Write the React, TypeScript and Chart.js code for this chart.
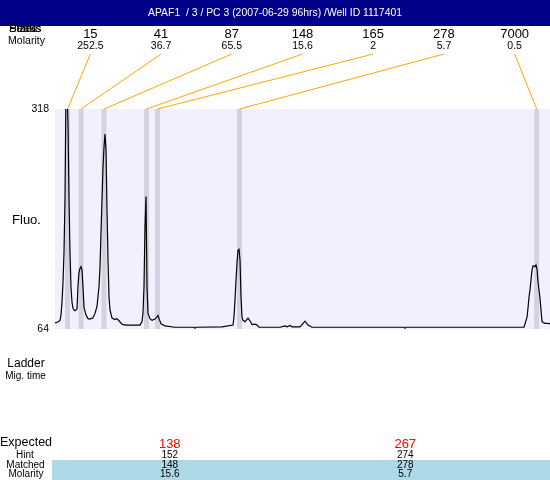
import React, { useEffect, useRef } from "react";
import { Chart, registerables } from "chart.js";

Chart.register(...registerables);

const titleText = "APAF1  / 3 / PC 3 (2007-06-29 96hrs) /Well ID 1117401";

// migration position (arbitrary time units) and fluorescence
const traceTime = [0, 3, 5, 6, 7, 8, 9, 10, 11, 12, 13, 14, 15, 16, 17, 18, 19, 20, 22, 23, 24, 25, 26, 27, 28, 29, 31, 33, 35, 38, 40, 42, 44, 45, 46, 47, 48, 49, 50, 51, 52, 53, 54, 55, 57, 60, 62, 64, 67, 70, 85, 87, 88, 89, 90, 91, 92, 93, 95, 97, 100, 102, 103, 104, 106, 110, 120, 139, 140, 141, 167, 178, 179, 180, 181, 182, 183, 184, 185, 186, 187, 188, 190, 193, 195, 197, 200, 202, 204, 225, 230, 232, 235, 237, 245, 250, 253, 257, 349, 350, 351, 469, 470, 472, 473, 474, 475, 476, 477, 478, 480, 481, 482, 483, 484, 485, 486, 487, 488, 490, 493, 495];
const traceFluo = [71, 72, 74, 80, 95, 118, 152, 215, 345, 340, 300, 215, 152, 112, 95, 88, 86, 85, 87, 114, 129, 134, 136, 132, 112, 89, 80, 76, 75.5, 77, 82, 90, 113, 136, 175, 213, 251, 274, 289, 271, 201, 144, 101, 86, 76.5, 75, 76, 73.5, 69.5, 68.5, 68.5, 72.5, 82, 113, 182, 217, 113, 82, 76, 74, 75.5, 78, 79.5, 76, 70, 67.5, 66, 66, 65, 66, 66.5, 68.5, 78, 97.5, 120, 140, 155, 156, 144, 101, 78, 74, 72.5, 76.5, 73.5, 69, 69.5, 68.5, 66, 66, 67.5, 66.5, 68, 66.5, 66.5, 73, 68.5, 66, 66, 65, 66, 66, 70, 77.5, 88, 101, 109, 120.5, 132, 137, 136, 138, 133, 118.5, 109, 99.5, 86, 72.5, 71.5, 70.5, 70.5, 70];

const timeMin = 0;
const timeMax = 495;
const fluoMin = 64;
const fluoMax = 318;

// ladder peaks
const ladderTime = [12.5, 26, 49, 91.5, 102.5, 184.5, 481.7];
const ladderSizes = ["15", "41", "87", "148", "165", "278", "7000"];
const ladderMolarity = ["252.5", "36.7", "65.5", "15.6", "2", "5.7", "0.5"];

// bottom table
const expectedSizes = ["138", "267"];
const hintSizes = ["152", "274"];
const matchedSizes = ["148", "278"];
const matchedMolarity = ["15.6", "5.7"];

const FONT = "'Liberation Sans', Arial, sans-serif";

export default function App() {
  const ref = useRef<HTMLCanvasElement | null>(null);

  useEffect(() => {
    document.body.style.margin = "0";
    const canvas = ref.current;
    if (!canvas) return;

    const decor = {
      id: "decor",
      beforeDatasetsDraw(chart: any) {
        const { ctx, chartArea, scales } = chart;
        const x = scales.x;
        ctx.save();
        ctx.fillStyle = "#F0F0FE";
        ctx.fillRect(chartArea.left, chartArea.top, chartArea.right - chartArea.left, chartArea.bottom - chartArea.top);
        ctx.fillStyle = "#D3D3DF";
        ladderTime.forEach((t) => {
          const x1 = x.getPixelForValue(t - 2.5);
          const x2 = x.getPixelForValue(t + 2.5);
          ctx.fillRect(x1, chartArea.top, x2 - x1, chartArea.bottom - chartArea.top);
        });
        ctx.restore();
      },
      afterDraw(chart: any) {
        const { ctx, chartArea, scales, width } = chart;
        const x = scales.x;
        ctx.save();
        // header
        ctx.fillStyle = "#000088";
        ctx.fillRect(0, 0, width, 26);
        ctx.fillStyle = "#FFF";
        ctx.textBaseline = "middle";
        ctx.textAlign = "center";
        ctx.font = `10.4px ${FONT}`;
        ctx.fillText(titleText, width / 2, 13.5);

        // left labels
        ctx.fillStyle = "#000";
        ctx.textAlign = "left";
        ctx.font = `11.5px ${FONT}`;
        ["Peaks", "Status", "Sizes"].forEach((s) => ctx.fillText(s, 9, 28.5));
        ctx.textAlign = "center";
        ctx.font = `10.5px ${FONT}`;
        ctx.fillText("Molarity", 26.5, 41);

        // ladder labels and connectors
        const w = (chartArea.right - chartArea.left) / ladderSizes.length;
        ladderSizes.forEach((s, i) => {
          const cx = chartArea.left + (i + 0.5) * w;
          ctx.fillStyle = "#000";
          ctx.font = `13px ${FONT}`;
          ctx.fillText(s, cx, 34);
          ctx.font = `10.5px ${FONT}`;
          ctx.fillText(ladderMolarity[i], cx, 46.5);
          ctx.strokeStyle = "#FFA500";
          ctx.lineWidth = 1;
          ctx.beginPath();
          ctx.moveTo(cx, 54);
          ctx.lineTo(x.getPixelForValue(ladderTime[i]), chartArea.top);
          ctx.stroke();
        });

        ctx.fillStyle = "#000";
        ctx.font = `13px ${FONT}`;
        ctx.fillText("Fluo.", 26.5, 220);
        ctx.font = `12px ${FONT}`;
        ctx.fillText("Ladder", 26, 364);
        ctx.font = `10px ${FONT}`;
        ctx.fillText("Mig. time", 25.5, 376);

        // bottom table
        ctx.fillStyle = "#ADD8E6";
        ctx.fillRect(52, 460, width - 52, 20);
        ctx.fillStyle = "#000";
        ctx.font = `12.5px ${FONT}`;
        ctx.fillText("Expected", 26, 443);
        ctx.font = `10px ${FONT}`;
        ctx.fillText("Hint", 25, 455);
        ctx.fillText("Matched", 25.5, 465);
        ctx.fillText("Molarity", 26, 474.5);
        const colW = 235.5;
        expectedSizes.forEach((s, i) => {
          const cx = 52 + colW * (i + 0.5);
          ctx.fillStyle = "#FF0000";
          ctx.font = `13px ${FONT}`;
          ctx.fillText(s, cx, 444);
          ctx.fillStyle = "#000";
          ctx.font = `10px ${FONT}`;
          ctx.fillText(hintSizes[i], cx, 455);
          ctx.fillText(matchedSizes[i], cx, 465);
          ctx.fillText(matchedMolarity[i], cx, 474.5);
        });
        ctx.restore();
      },
    };

    const chart = new Chart(canvas, {
      type: "line",
      data: {
        datasets: [
          {
            data: traceTime.map((t, i) => ({ x: t, y: traceFluo[i] })),
            borderColor: "#000",
            borderWidth: 1.2,
            pointRadius: 0,
            tension: 0,
            fill: false,
          },
        ],
      },
      options: {
        animation: false,
        responsive: false,
        events: [],
        layout: { padding: { top: 109, right: 0, bottom: 151, left: 0 } },
        plugins: { legend: { display: false }, tooltip: { enabled: false }, title: { display: false } },
        scales: {
          x: { type: "linear", min: timeMin, max: timeMax, display: false },
          y: {
            type: "linear",
            min: fluoMin,
            max: fluoMax,
            grid: { display: false, drawTicks: false },
            border: { display: false },
            afterFit: (s: any) => {
              s.width = 55;
            },
            afterBuildTicks: (s: any) => {
              s.ticks = [{ value: fluoMin }, { value: fluoMax }];
            },
            ticks: { padding: 6, color: "#000", font: { family: FONT, size: 10.5 } },
          },
        },
      },
      plugins: [decor],
    });
    return () => chart.destroy();
  }, []);

  return (
    <div style={{ width: 550, height: 480 }}>
      <canvas ref={ref} width={550} height={480} style={{ display: "block" }} />
    </div>
  );
}
